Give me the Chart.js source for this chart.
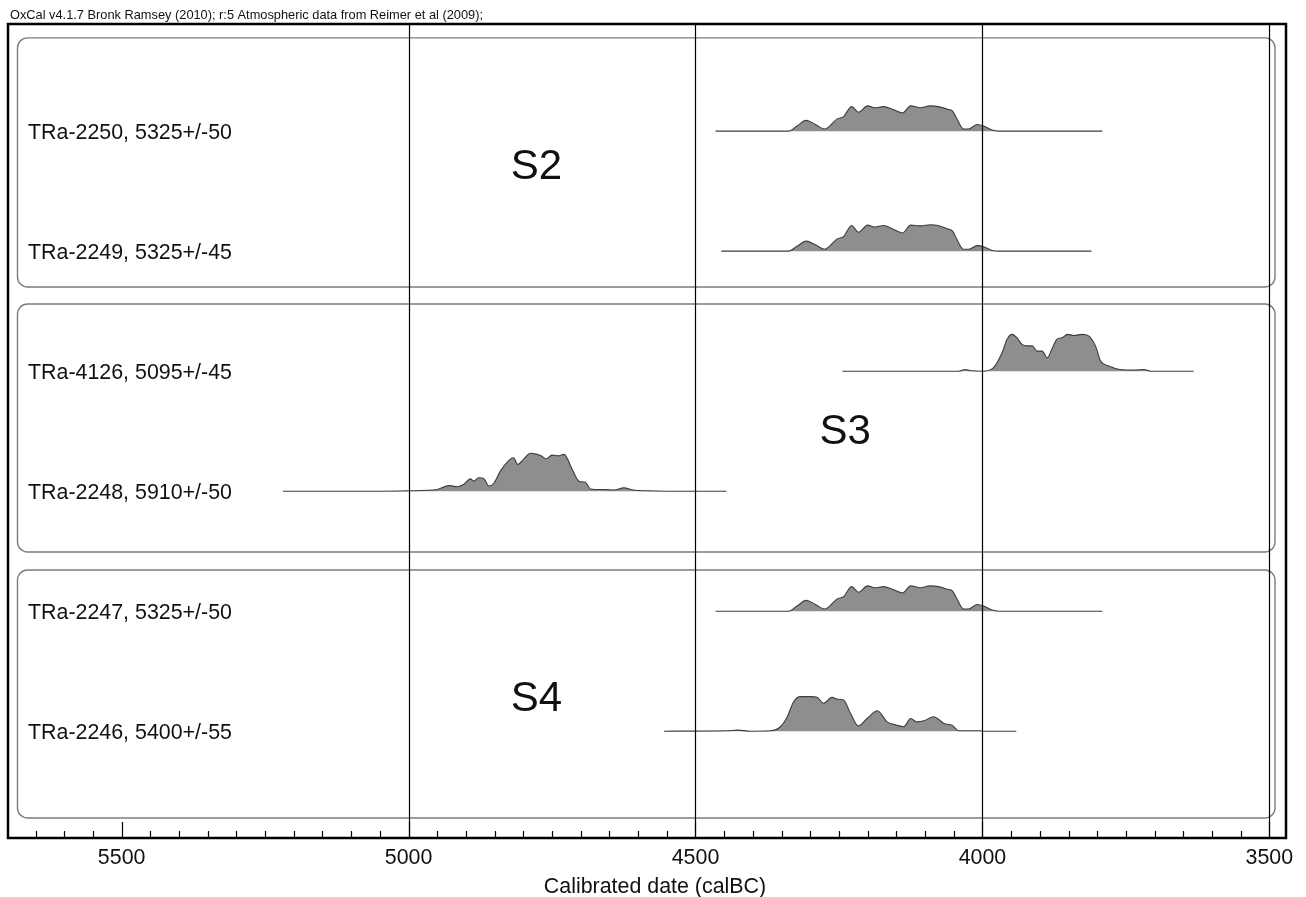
<!DOCTYPE html>
<html>
<head>
<meta charset="utf-8">
<title>OxCal calibrated dates</title>
<script src="https://cdn.jsdelivr.net/npm/chart.js@4.4.1/dist/chart.umd.min.js"></script>
<style>
  html, body { margin: 0; padding: 0; background: #fff; }
  #wrap { width: 1306px; height: 897px; position: relative; }
</style>
</head>
<body>
<div id="wrap"><canvas id="oxcalChart" width="1306" height="897"></canvas></div>
<script>
const headerText = 'OxCal v4.1.7 Bronk Ramsey (2010); r:5 Atmospheric data from Reimer et al (2009);';
const axisTitle = 'Calibrated date (calBC)';

// samples, top to bottom
const sampleLabels = [
    'TRa-2250, 5325+/-50',
    'TRa-2249, 5325+/-45',
    'TRa-4126, 5095+/-45',
    'TRa-2248, 5910+/-50',
    'TRa-2247, 5325+/-50',
    'TRa-2246, 5400+/-55'
];
const groupNames = ['S2', 'S3', 'S4'];

const majorTicks = [5500, 5000, 4500, 4000, 3500];
const gridYears = [5000, 4500, 4000, 3500];

// calibrated probability (years calBC, relative height)
const tra2250Years = [4465, 4338, 4323, 4307, 4291, 4275, 4253, 4242, 4228, 4216, 4200, 4188, 4172, 4157, 4139, 4125, 4108, 4091, 4077, 4061, 4052, 4044, 4033, 4024, 4009, 3998, 3983, 3972, 3791];
const tra2250Prob = [0, 0, 0.14, 0.29, 0.18, 0.06, 0.33, 0.39, 0.66, 0.51, 0.68, 0.63, 0.66, 0.59, 0.49, 0.68, 0.63, 0.68, 0.66, 0.59, 0.54, 0.32, 0.06, 0.06, 0.18, 0.14, 0.03, 0, 0];

const tra2249Years = [4455, 4338, 4323, 4307, 4291, 4275, 4253, 4242, 4228, 4216, 4200, 4188, 4172, 4157, 4139, 4125, 4108, 4091, 4077, 4061, 4052, 4044, 4033, 4024, 4009, 3998, 3983, 3972, 3810];
const tra2249Prob = [0, 0, 0.13, 0.27, 0.17, 0.05, 0.33, 0.39, 0.69, 0.51, 0.70, 0.65, 0.69, 0.60, 0.49, 0.70, 0.68, 0.71, 0.69, 0.60, 0.54, 0.30, 0.05, 0.05, 0.15, 0.12, 0.02, 0, 0];

const tra4126Years = [4244, 4041, 4030, 4018, 4000, 3981, 3966, 3957, 3948, 3940, 3931, 3922, 3913, 3905, 3896, 3887, 3879, 3870, 3861, 3852, 3841, 3826, 3815, 3803, 3794, 3780, 3760, 3736, 3719, 3707, 3632];
const tra4126Prob = [0, 0, 0.045, 0.01, 0, 0.09, 0.49, 0.86, 0.99, 0.90, 0.72, 0.68, 0.68, 0.54, 0.54, 0.36, 0.59, 0.86, 0.90, 0.99, 0.96, 0.99, 0.95, 0.68, 0.27, 0.14, 0.045, 0.03, 0.045, 0, 0];

const tra2248Years = [5219, 5050, 5000, 4950, 4930, 4915, 4904, 4892, 4886, 4878, 4869, 4860, 4851, 4840, 4822, 4817, 4810, 4799, 4788, 4776, 4769, 4760, 4750, 4738, 4729, 4715, 4703, 4692, 4683, 4660, 4642, 4625, 4608, 4584, 4549, 4446];
const tra2248Prob = [0, 0, 0.01, 0.045, 0.15, 0.12, 0.18, 0.33, 0.27, 0.36, 0.34, 0.14, 0.22, 0.54, 0.87, 0.90, 0.72, 0.87, 1.02, 0.99, 0.95, 0.87, 0.97, 0.95, 0.99, 0.59, 0.27, 0.24, 0.06, 0.045, 0.03, 0.09, 0.03, 0.01, 0, 0];

const tra2247Years = [4465, 4338, 4323, 4307, 4291, 4275, 4253, 4242, 4228, 4216, 4200, 4188, 4172, 4157, 4139, 4125, 4108, 4091, 4077, 4061, 4052, 4044, 4033, 4024, 4009, 3998, 3983, 3972, 3791];
const tra2247Prob = [0, 0, 0.14, 0.29, 0.18, 0.06, 0.33, 0.39, 0.66, 0.51, 0.68, 0.63, 0.66, 0.59, 0.49, 0.68, 0.63, 0.68, 0.66, 0.59, 0.54, 0.32, 0.06, 0.06, 0.18, 0.14, 0.03, 0, 0];

const tra2246Years = [4555, 4445, 4427, 4404, 4369, 4352, 4340, 4329, 4317, 4300, 4288, 4277, 4262, 4253, 4242, 4230, 4216, 4201, 4183, 4166, 4149, 4137, 4125, 4114, 4102, 4085, 4067, 4053, 4041, 4004, 3998, 3941];
const tra2246Prob = [0, 0.01, 0.03, 0, 0.01, 0.12, 0.39, 0.79, 0.93, 0.93, 0.91, 0.75, 0.91, 0.86, 0.84, 0.48, 0.14, 0.34, 0.55, 0.25, 0.16, 0.12, 0.34, 0.25, 0.28, 0.39, 0.21, 0.16, 0.01, 0.01, 0, 0];

const rowYears = [tra2250Years, tra2249Years, tra4126Years, tra2248Years, tra2247Years, tra2246Years];
const rowProbs = [tra2250Prob, tra2249Prob, tra4126Prob, tra2248Prob, tra2247Prob, tra2246Prob];

// y axis is in "row" units, one row per sample
const ROW_OFFSET = 0.89;
const PROB_SCALE = 0.31;
const FONT = "'Liberation Sans', Arial, Helvetica, sans-serif";

function rowBase(i) {
    return (sampleLabels.length - 1 - i) + ROW_OFFSET;
}

const datasets = sampleLabels.map((label, i) => {
    const base = rowBase(i);
    return {
        label: label,
        data: rowYears[i].map((yr, j) => ({ x: yr, y: base + rowProbs[i][j] * PROB_SCALE })),
        borderColor: '#3c3c3c',
        borderWidth: 1.1,
        backgroundColor: '#8e8e8e',
        fill: { value: base },
        pointRadius: 0,
        cubicInterpolationMode: 'monotone'
    };
});

// group boxes and labels (y in row units, x in calBC)
const groupBoxes = [
    { top: 6.667, bottom: 4.592, labelX: 4777, labelY: 5.59 },
    { top: 4.45, bottom: 2.383, labelX: 4239, labelY: 3.38 },
    { top: 2.233, bottom: 0.167, labelX: 4777, labelY: 1.155 }
];

function roundRect(ctx, x, y, w, h, r) {
    ctx.beginPath();
    ctx.moveTo(x + r, y);
    ctx.lineTo(x + w - r, y);
    ctx.arcTo(x + w, y, x + w, y + r, r);
    ctx.lineTo(x + w, y + h - r);
    ctx.arcTo(x + w, y + h, x + w - r, y + h, r);
    ctx.lineTo(x + r, y + h);
    ctx.arcTo(x, y + h, x, y + h - r, r);
    ctx.lineTo(x, y + r);
    ctx.arcTo(x, y, x + r, y, r);
    ctx.closePath();
}

const oxcalDecor = {
    id: 'oxcalDecor',
    beforeDatasetsDraw(chart) {
        const { ctx, chartArea: a, scales: { y } } = chart;
        ctx.save();
        ctx.strokeStyle = '#7c7c7c';
        ctx.lineWidth = 1.4;
        groupBoxes.forEach(b => {
            const top = y.getPixelForValue(b.top);
            const bottom = y.getPixelForValue(b.bottom);
            roundRect(ctx, a.left + 9.5, top, (a.right - 11) - (a.left + 9.5), bottom - top, 10);
            ctx.stroke();
        });
        ctx.restore();
    },
    afterDatasetsDraw(chart) {
        const { ctx, chartArea: a, scales: { x, y } } = chart;
        ctx.save();

        // full height lines
        ctx.strokeStyle = '#000';
        ctx.lineWidth = 1.2;
        gridYears.forEach(yr => {
            const px = Math.round(x.getPixelForValue(yr)) + 0.5;
            ctx.beginPath();
            ctx.moveTo(px, a.top);
            ctx.lineTo(px, a.bottom);
            ctx.stroke();
        });

        // tick marks, every 50 years, inside the frame
        for (let yr = 3500; yr < x.max; yr += 50) {
            const px = Math.round(x.getPixelForValue(yr)) + 0.5;
            const len = majorTicks.includes(yr) ? 16 : 7;
            ctx.beginPath();
            ctx.moveTo(px, a.bottom);
            ctx.lineTo(px, a.bottom - len);
            ctx.stroke();
        }

        // frame
        ctx.lineWidth = 2.5;
        ctx.strokeRect(a.left, a.top, a.right - a.left, a.bottom - a.top);

        // tick labels and axis title
        ctx.fillStyle = '#111';
        ctx.font = '21.4px ' + FONT;
        ctx.textAlign = 'center';
        ctx.textBaseline = 'middle';
        majorTicks.forEach(yr => {
            ctx.fillText(String(yr), x.getPixelForValue(yr), a.bottom + 20.5);
        });
        ctx.fillText(axisTitle, (a.left + a.right) / 2 + 8, a.bottom + 49.5);

        // sample labels
        ctx.textAlign = 'left';
        sampleLabels.forEach((label, i) => {
            ctx.fillText(label, a.left + 20, y.getPixelForValue(rowBase(i)) + 1.5);
        });

        // group names
        ctx.textAlign = 'center';
        ctx.font = '42px ' + FONT;
        groupBoxes.forEach((b, i) => {
            ctx.fillText(groupNames[i], x.getPixelForValue(b.labelX), y.getPixelForValue(b.labelY));
        });

        // header
        ctx.textAlign = 'left';
        ctx.textBaseline = 'alphabetic';
        ctx.font = '12.8px ' + FONT;
        ctx.fillText(headerText, 10, 19);

        ctx.restore();
    }
};

new Chart(document.getElementById('oxcalChart'), {
    type: 'line',
    data: { datasets: datasets },
    options: {
        responsive: false,
        animation: false,
        layout: { padding: { left: 8, right: 20, top: 24, bottom: 59 } },
        scales: {
            x: { type: 'linear', reverse: true, min: 3471, max: 5698, display: false },
            y: { type: 'linear', min: 0, max: 6.783, display: false }
        },
        plugins: {
            legend: { display: false },
            tooltip: { enabled: false }
        }
    },
    plugins: [oxcalDecor]
});
</script>
</body>
</html>
